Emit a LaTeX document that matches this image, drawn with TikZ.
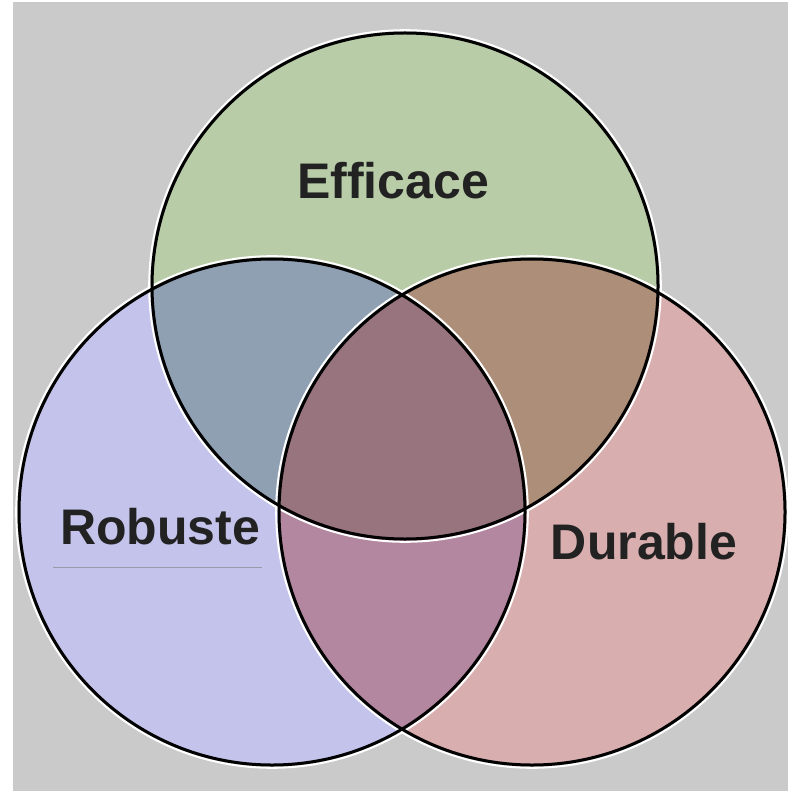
\documentclass[tikz,border=0pt]{standalone}
\usepackage{fontspec}
\setmainfont{Liberation Sans}
\definecolor{bg}{HTML}{CACACA}
\definecolor{cE}{HTML}{B8CCA8}
\definecolor{cR}{HTML}{C4C3EB}
\definecolor{cD}{HTML}{D9AEAF}
\definecolor{cER}{HTML}{8FA0B3}
\definecolor{cED}{HTML}{AC8E79}
\definecolor{cRD}{HTML}{B487A0}
\definecolor{cERD}{HTML}{98747F}
\definecolor{txt}{HTML}{222222}
\definecolor{uline}{HTML}{9A9AAC}
\tikzset{
  rim/.style={draw=black, line width=3pt},
  halo/.style={draw=white, line width=2pt},
  lbl/.style={font=\bfseries\fontsize{50}{56}\selectfont, text=txt, inner sep=0pt}
}
\begin{document}
\begin{tikzpicture}[x=1pt,y=-1pt]
\useasboundingbox (0,0) rectangle (788,791);
\fill[white] (0,0) rectangle (788,791);
\fill[bg] (13,2) rectangle (788,791);
% centres
\coordinate (cEf) at (405,286);
\coordinate (cRo) at (272,512);
\coordinate (cDu) at (532,512);
\def\rr{253}
% single fills
\fill[cE] (cEf) circle (\rr);
\fill[cR] (cRo) circle (\rr);
\fill[cD] (cDu) circle (\rr);
% pair overlaps
\begin{scope}
  \clip (cEf) circle (\rr);
  \fill[cER] (cRo) circle (\rr);
  \fill[cED] (cDu) circle (\rr);
\end{scope}
\begin{scope}
  \clip (cRo) circle (\rr);
  \fill[cRD] (cDu) circle (\rr);
  \clip (cDu) circle (\rr);
  \fill[cERD] (cEf) circle (\rr);
\end{scope}
% outlines
\draw[halo] (cEf) circle (\rr+2.8);
\draw[halo] (cRo) circle (\rr+2.8);
\draw[halo] (cDu) circle (\rr+2.8);
\draw[rim] (cEf) circle (\rr);
\draw[rim] (cRo) circle (\rr);
\draw[rim] (cDu) circle (\rr);
% labels
\node[lbl] (tE) at (393,181) {Efficace};
\node[lbl] (tR) at (160,527) {Robuste};
\node[lbl] (tD) at (644,542) {Durable};
\coordinate (u1) at (53,567);
\coordinate (u2) at (262,567);
\draw[uline, line width=0.8pt] (u1) -- (u2);
\end{tikzpicture}
\end{document}
